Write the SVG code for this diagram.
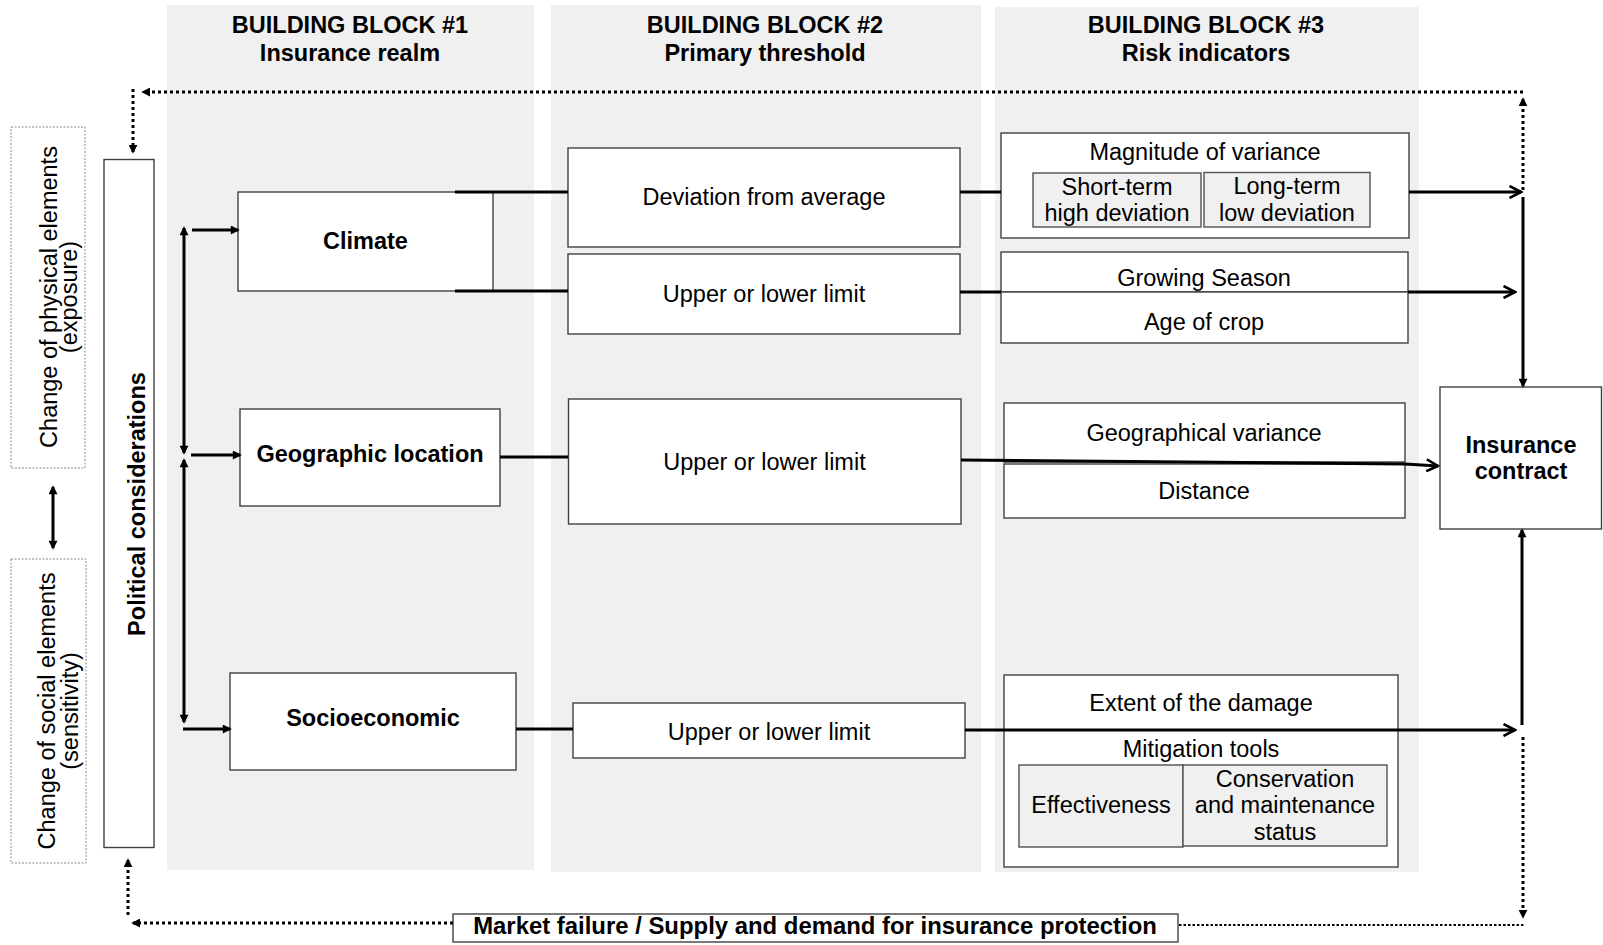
<svg xmlns="http://www.w3.org/2000/svg" width="1603" height="945" viewBox="0 0 1603 945">
<style>
text{font-family:"Liberation Sans",Arial,sans-serif;font-size:23.5px;fill:#000;text-anchor:middle}
.b{font-weight:bold}
.panel{fill:#f0f0f0;stroke:none}
.box{fill:#fff;stroke:#404040;stroke-width:1.4}
.sub{fill:#f0f0f0;stroke:#505050;stroke-width:1.4}
.dash{fill:#fff;stroke:#8a8a8a;stroke-width:1;stroke-dasharray:2 1.5}
.con{fill:none;stroke:#000;stroke-width:3}
.dot{fill:none;stroke:#000;stroke-width:3;stroke-dasharray:3 3}
.dot2{fill:none;stroke:#000;stroke-width:2;stroke-dasharray:2.5 2}
</style>
<defs>
<marker id="tri" viewBox="0 0 10 10" refX="8" refY="5" markerWidth="10" markerHeight="9" orient="auto-start-reverse" markerUnits="userSpaceOnUse"><path d="M0,0 L10,5 L0,10 z" fill="#000"/></marker>
<marker id="dtri" viewBox="0 0 10 10" refX="8" refY="5" markerWidth="9" markerHeight="9" orient="auto" markerUnits="userSpaceOnUse"><path d="M0,0 L10,5 L0,10 z" fill="#000"/></marker>
<marker id="chev" viewBox="0 0 14 14" refX="12.5" refY="7" markerWidth="14" markerHeight="14" orient="auto" markerUnits="userSpaceOnUse"><path d="M1,1 L12.5,7 L1,13" fill="none" stroke="#000" stroke-width="2.6"/></marker>
</defs>

<g id="panels">
<rect class="panel" x="167" y="5" width="367" height="865"/>
<rect class="panel" x="551" y="5" width="430" height="867"/>
<rect class="panel" x="995" y="7" width="424" height="865"/>
<text class="b" x="350" y="33">BUILDING BLOCK #1</text>
<text class="b" x="350" y="61">Insurance realm</text>
<text class="b" x="765" y="33">BUILDING BLOCK #2</text>
<text class="b" x="765" y="61">Primary threshold</text>
<text class="b" x="1206" y="33">BUILDING BLOCK #3</text>
<text class="b" x="1206" y="61">Risk indicators</text>
</g>

<g id="physical">
<rect class="dash" x="11" y="127" width="74" height="341"/>
<g transform="translate(0,297) rotate(-90)"><text x="0" y="57">Change of physical elements</text><text x="0" y="77">(exposure)</text></g>
</g>
<g id="social">
<rect class="dash" x="11" y="559" width="75" height="304"/>
<g transform="translate(0,711) rotate(-90)"><text x="0" y="55">Change of social elements</text><text x="0" y="78">(sensitivity)</text></g>
</g>
<g id="political">
<rect class="box" x="104" y="159.5" width="50" height="688"/>
<g transform="translate(0,504) rotate(-90)"><text class="b" x="0" y="145">Political considerations</text></g>
</g>

<g id="climate"><rect class="box" x="238" y="192" width="255" height="99"/><text class="b" x="365.5" y="249">Climate</text></g>
<g id="geographic"><rect class="box" x="240" y="409" width="260" height="97"/><text class="b" x="370" y="462">Geographic location</text></g>
<g id="socioeconomic"><rect class="box" x="230" y="673" width="286" height="97"/><text class="b" x="373" y="726">Socioeconomic</text></g>

<g id="deviation"><rect class="box" x="568" y="148" width="392" height="99"/><text x="764" y="205">Deviation from average</text></g>
<g id="limit1"><rect class="box" x="568" y="254" width="392" height="80"/><text x="764" y="302">Upper or lower limit</text></g>
<g id="limit2"><rect class="box" x="568.5" y="399" width="392.5" height="125"/><text x="764.5" y="470">Upper or lower limit</text></g>
<g id="limit3"><rect class="box" x="573" y="703" width="392" height="55"/><text x="769" y="740">Upper or lower limit</text></g>

<g id="magnitude">
<rect class="box" x="1001" y="133" width="408" height="105"/>
<text x="1205" y="160">Magnitude of variance</text>
<rect class="sub" x="1033" y="173" width="168" height="54"/>
<text x="1117" y="195">Short-term</text><text x="1117" y="221">high deviation</text>
<rect class="sub" x="1204" y="172.5" width="166" height="54.5"/>
<text x="1287" y="194">Long-term</text><text x="1287" y="221">low deviation</text>
</g>
<g id="growing"><rect class="box" x="1001" y="252" width="407" height="40"/><text x="1204" y="286">Growing Season</text></g>
<g id="age"><rect class="box" x="1001" y="292" width="407" height="51"/><text x="1204" y="330">Age of crop</text></g>
<g id="geovariance"><rect class="box" x="1004" y="403" width="401" height="59"/><text x="1204" y="441">Geographical variance</text></g>
<g id="distance"><rect class="box" x="1004" y="464" width="401" height="54"/><text x="1204" y="499">Distance</text></g>
<g id="damage">
<rect class="box" x="1004" y="675" width="394" height="192"/>
<text x="1201" y="711">Extent of the damage</text>
<text x="1201" y="757">Mitigation tools</text>
<rect class="sub" x="1019" y="765" width="164" height="82"/>
<text x="1101" y="813">Effectiveness</text>
<rect class="sub" x="1183" y="765" width="204" height="81"/>
<text x="1285" y="787">Conservation</text><text x="1285" y="813">and maintenance</text><text x="1285" y="840">status</text>
</g>
<g id="contract"><rect class="box" x="1440" y="387" width="161.5" height="142"/><text class="b" x="1521" y="453">Insurance</text><text class="b" x="1521" y="479">contract</text></g>
<g id="market"><rect class="box" x="453" y="914" width="725" height="28"/><text class="b" x="815" y="934" style="font-size:23.9px">Market failure / Supply and demand for insurance protection</text></g>

<g id="connectors">
<path class="con" d="M53,487 L53,548" marker-start="url(#tri)" marker-end="url(#tri)"/>
<path class="con" d="M184,228 L184,453" marker-start="url(#tri)" marker-end="url(#tri)"/>
<path class="con" d="M184,460 L184,722" marker-start="url(#tri)" marker-end="url(#tri)"/>
<path class="con" d="M192,230 L238,230" marker-end="url(#tri)"/>
<path class="con" d="M191,455 L240,455" marker-end="url(#tri)"/>
<path class="con" d="M183,729 L230,729" marker-end="url(#tri)"/>
<path class="con" d="M455,192 L568,192"/>
<path class="con" d="M455,291 L568,291"/>
<path class="con" d="M500,457 L568,457"/>
<path class="con" d="M516,729 L573,729"/>
<path class="con" d="M960,192 L1001,192"/>
<path class="con" d="M960,292 L1001,292"/>
<path class="con" d="M1409,192 L1521,192" marker-end="url(#chev)"/>
<path class="con" d="M1408,292 L1515,292" marker-end="url(#chev)"/>
<path class="con" d="M961,460 L1405,464 L1438,466" marker-end="url(#chev)"/>
<path class="con" d="M965,730 L1515,730" marker-end="url(#chev)"/>
<path class="con" d="M1523,197 L1523,386" marker-end="url(#tri)"/>
<path class="con" d="M1522,725 L1522,530" marker-end="url(#tri)"/>
<path class="dot" d="M1523,92 L143,92" marker-end="url(#dtri)"/>
<path class="dot" d="M1523,190 L1523,99" marker-end="url(#dtri)"/>
<path class="dot" d="M133,89 L133,152" marker-end="url(#dtri)"/>
<path class="dot" d="M453,923 L133,923" marker-end="url(#dtri)"/>
<path class="dot" d="M128,915 L128,860" marker-end="url(#dtri)"/>
<path class="dot" d="M1523,737 L1523,917" marker-end="url(#dtri)"/>
<path class="dot2" d="M1179,925 L1525,925"/>
</g>
</svg>
